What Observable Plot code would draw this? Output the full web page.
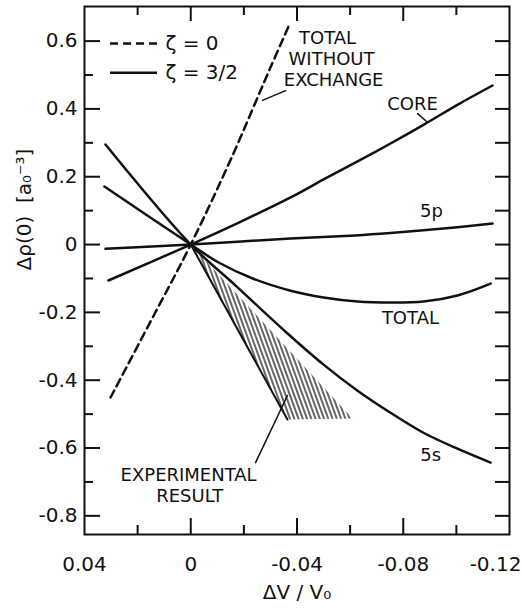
<!DOCTYPE html>
<html>
<head>
<meta charset="utf-8">
<script src="https://cdn.jsdelivr.net/npm/d3@7"></script>
<script src="https://cdn.jsdelivr.net/npm/@observablehq/plot@0.6"></script>
<style>
  html, body { margin: 0; padding: 0; background: #fff; }
</style>
</head>
<body>
<div id="chart"></div>
<script>
// ---- data ----
const coreX  = [0.031, 0, -0.0187, -0.0376, -0.050, -0.0628, -0.0752, -0.0876, -0.1004, -0.1136];
const coreY  = [-0.106, 0, 0.067, 0.139, 0.192, 0.245, 0.298, 0.353, 0.412, 0.469];

const s5X    = [0.0321, 0, -0.0169, -0.0357, -0.050, -0.0628, -0.0752, -0.0876, -0.1004, -0.1129];
const s5Y    = [0.295, 0, -0.121, -0.257, -0.354, -0.431, -0.496, -0.555, -0.602, -0.643];

const totalX = [0.0325, 0, -0.0105, -0.0233, -0.0376, -0.050, -0.0628, -0.0752, -0.0876, -0.1004, -0.1129];
const totalY = [0.171, 0, -0.053, -0.100, -0.136, -0.156, -0.168, -0.171, -0.168, -0.150, -0.115];

const p5X    = [0.0321, 0, -0.0376, -0.062, -0.0752, -0.0876, -0.1004, -0.1136];
const p5Y    = [-0.012, 0, 0.018, 0.027, 0.034, 0.042, 0.051, 0.062];

const noExX  = [0.0302, 0.015, 0, -0.015, -0.03, -0.0368];
const noExY  = [-0.451, -0.225, 0, 0.25, 0.522, 0.643];

const expX   = [0, -0.0364, -0.0609, 0];
const expY   = [0, -0.516, -0.513, 0];

const xTickLabels = [0.04, 0, -0.04, -0.08];
const xEdgeLabel  = [-0.12];
const xMinorTicks = [0.02, -0.02, -0.06, -0.10];
const xMajorTicks = [0, -0.04, -0.08];
const yTickLabels = [0.6, 0.4, 0.2, 0, -0.2, -0.4, -0.6, -0.8];
const yMinorTicks = [0.5, 0.3, 0.1, -0.1, -0.3, -0.5, -0.7];

const legendLabels = ["ζ = 0", "ζ = 3/2"];
const legendYs = [0.593, 0.507];

const labelTexts = ["TOTAL", "WITHOUT", "EXCHANGE", "CORE", "5p", "TOTAL", "5s", "EXPERIMENTAL", "RESULT"];
const labelXs    = [-0.0515, -0.053, -0.0538, -0.0835, -0.0906, -0.0827, -0.0903, 0.0008, 0.0004];
const labelYs    = [0.608, 0.546, 0.484, 0.413, 0.097, -0.218, -0.622, -0.681, -0.743];

const arrowX1 = [-0.0357, -0.0854, -0.0244];
const arrowY1 = [0.454, 0.386, -0.643];
const arrowX2 = [-0.027, -0.0888, -0.0364];
const arrowY2 = [0.425, 0.363, -0.445];
const arrowBend = [12, 0, 0];

// ---- tables ----
const pts = (xs, ys) => xs.map((x, i) => ({x, y: ys[i]}));
const solid = [
  ...pts(coreX, coreY).map(d => ({...d, s: "core"})),
  ...pts(s5X, s5Y).map(d => ({...d, s: "5s"})),
  ...pts(totalX, totalY).map(d => ({...d, s: "total"})),
  ...pts(p5X, p5Y).map(d => ({...d, s: "5p"}))
];
const noEx = pts(noExX, noExY);
const exp = pts(expX, expY);
const labels = labelTexts.map((t, i) => ({t, x: labelXs[i], y: labelYs[i]}));
const arrows = arrowX1.map((x1, i) => ({x1, y1: arrowY1[i], x2: arrowX2[i], y2: arrowY2[i], bend: arrowBend[i]}));

const W = 522, H = 616, mL = 84, mR = 13, mT = 6, mB = 82;
const iw = W - mL - mR, ih = H - mT - mB;
const FONT = "DejaVu Sans";
const fmt = d => d === 0 ? "0" : String(d);

const chart = Plot.plot({
  width: W, height: H,
  marginLeft: mL, marginRight: mR, marginTop: mT, marginBottom: mB,
  style: {fontFamily: FONT, fontSize: "20px", background: "#fff", color: "#111"},
  x: {domain: [0.04, -0.12]},
  y: {domain: [-0.855, 0.702]},
  marks: [
    // hatched experimental result
    Plot.line(exp, {x: "x", y: "y", fill: "url(#hatch)", stroke: "none"}),
    Plot.line(exp.slice(0, 2), {x: "x", y: "y", stroke: "#111", strokeWidth: 2}),
    // curves
    Plot.line(solid, {x: "x", y: "y", z: "s", curve: "catmull-rom", stroke: "#111", strokeWidth: 2.5}),
    Plot.line(noEx, {x: "x", y: "y", curve: "catmull-rom", stroke: "#111", strokeWidth: 2.5, strokeDasharray: "8,5"}),
    // frame & ticks
    Plot.frame({stroke: "#111", strokeWidth: 2}),
    Plot.ruleX(xMajorTicks, {stroke: "#111", strokeWidth: 2, insetTop: ih - 16}),
    Plot.ruleX(xMinorTicks, {stroke: "#111", strokeWidth: 2, insetTop: ih - 9}),
    Plot.ruleX(xMajorTicks, {stroke: "#111", strokeWidth: 2, insetBottom: ih - 15}),
    Plot.ruleX(xMinorTicks, {stroke: "#111", strokeWidth: 2, insetBottom: ih - 9}),
    Plot.ruleY(yTickLabels, {stroke: "#111", strokeWidth: 2, insetRight: iw - 16}),
    Plot.ruleY(yMinorTicks, {stroke: "#111", strokeWidth: 2, insetRight: iw - 9}),
    Plot.ruleY([...yTickLabels, ...yMinorTicks], {stroke: "#111", strokeWidth: 2, insetLeft: iw - 14}),
    // axes labels
    Plot.axisX(xTickLabels, {tickSize: 0, tickPadding: 22, label: null, fontSize: 20, fontFamily: FONT, tickFormat: fmt}),
    Plot.axisX(xEdgeLabel, {tickSize: 0, tickPadding: 22, label: null, fontSize: 20, fontFamily: FONT, tickFormat: fmt, dx: -14}),
    Plot.axisY(yTickLabels, {tickSize: 0, tickPadding: 7, label: null, fontSize: 20, fontFamily: FONT, tickFormat: fmt}),
    Plot.text(["ΔV / V₀"], {frameAnchor: "bottom", dy: 64, fontSize: 20, fontFamily: FONT, fill: "#111"}),
    Plot.text(["Δρ(0)  [a₀⁻³]"], {frameAnchor: "left", dx: -60, rotate: -90, fontSize: 20, fontFamily: FONT, fill: "#111"}),
    // legend
    Plot.ruleY([legendYs[0]], {x1: 0.0302, x2: 0.0125, stroke: "#111", strokeWidth: 2.5, strokeDasharray: "8,5"}),
    Plot.ruleY([legendYs[1]], {x1: 0.0302, x2: 0.0125, stroke: "#111", strokeWidth: 2.5}),
    Plot.text(legendLabels, {x: 0.0095, y: (d, i) => legendYs[i], text: d => d, textAnchor: "start", fontSize: 20, fontFamily: FONT, fill: "#111"}),
    // annotations
    Plot.text(labels, {x: "x", y: "y", text: "t", textAnchor: "middle", fontSize: 18, fontFamily: FONT, fill: "#111"}),
    Plot.arrow(arrows, {x1: "x1", y1: "y1", x2: "x2", y2: "y2", bend: "bend", stroke: "#111", strokeWidth: 1.5, headLength: 7})
  ]
});

// hatch pattern definition
const defs = d3.select(chart).insert("defs", ":first-child");
const pat = defs.append("pattern")
  .attr("id", "hatch")
  .attr("patternUnits", "userSpaceOnUse")
  .attr("width", 4).attr("height", 10)
  .attr("patternTransform", "rotate(-20)");
pat.append("line").attr("x1", 1).attr("y1", -1).attr("x2", 1).attr("y2", 11)
  .attr("stroke", "#000").attr("stroke-width", 1.2);

document.getElementById("chart").appendChild(chart);
</script>
</body>
</html>
